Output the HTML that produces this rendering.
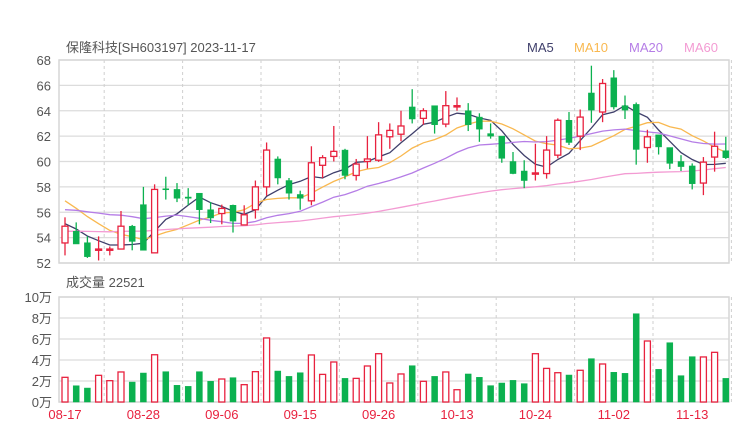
<!DOCTYPE html>
<html><head><meta charset="utf-8"><style>
body{margin:0;background:#fff;width:740px;height:440px;overflow:hidden;font-family:"Liberation Sans","Noto Sans CJK SC",sans-serif;}
svg text{font-family:"Liberation Sans","Noto Sans CJK SC",sans-serif;}
</style></head><body>
<svg id="chart" width="740" height="440" xmlns="http://www.w3.org/2000/svg">
<text x="66" y="52" font-size="13" fill="#555">保隆科技[SH603197] 2023-11-17</text>
<text x="527" y="52" font-size="13" fill="#3f3f6b">MA5</text>
<text x="574" y="52" font-size="13" fill="#f9b84f">MA10</text>
<text x="629" y="52" font-size="13" fill="#b57de6">MA20</text>
<text x="684" y="52" font-size="13" fill="#f39bd3">MA60</text>
<text x="66" y="287" font-size="13" fill="#555">成交量 22521</text>
<g id="main"></g>
</svg>
<script>
const dates=["08-17","08-28","09-06","09-15","09-26","10-13","10-24","11-02","11-13"];
const priceTicks=[68,66,64,62,60,58,56,54,52];
const volTicks=[10,8,6,4,2,0];
const opens=[53.58,54.5,53.6,53.0,53.0,53.1,54.9,56.6,52.8,57.85,57.8,57.2,57.5,56.2,55.9,56.55,55.0,56.2,58.0,60.2,58.5,57.4,56.9,59.7,60.4,60.9,58.9,60.0,60.1,61.95,62.15,64.3,63.4,64.4,62.95,64.3,64.0,63.5,62.2,62.0,60.0,59.25,59.0,59.05,60.5,63.25,62.0,65.4,63.9,66.6,64.4,64.5,61.1,62.1,61.1,60.0,59.65,58.3,60.35,60.85];
const closes=[54.9,53.5,52.5,53.1,53.1,54.9,53.7,53.0,57.8,57.8,57.1,57.1,56.2,55.55,56.3,55.3,55.8,58.0,60.9,58.7,57.5,57.1,59.9,60.3,60.8,58.9,59.8,60.2,62.1,62.45,62.8,63.35,64.0,62.9,64.4,64.4,62.9,62.55,62.0,60.25,59.05,58.5,59.1,60.9,63.25,61.5,63.5,64.05,66.15,64.3,64.05,60.95,61.95,61.15,59.85,59.6,58.25,59.95,61.2,60.3];
const highs=[55.6,55.2,54.1,54.1,53.3,56.1,55.0,58.0,58.2,58.8,58.3,57.9,57.5,56.8,56.6,56.6,56.55,58.5,61.5,60.4,58.7,57.7,61.2,60.5,62.8,61.0,60.2,62.0,63.1,63.0,64.0,65.7,64.2,64.4,65.55,65.05,64.6,63.8,63.0,62.0,60.75,60.1,61.4,62.0,63.4,63.9,64.1,67.55,66.5,67.2,65.2,64.65,62.5,62.1,61.1,60.5,59.85,60.35,62.35,61.95];
const lows=[52.6,53.5,52.4,52.2,52.6,53.1,53.0,53.0,52.8,57.0,56.8,56.55,55.05,55.15,55.05,54.4,55.0,55.5,57.3,58.2,57.0,56.2,56.55,58.7,60.0,58.6,58.5,59.45,59.97,61.0,61.6,63.0,62.9,62.2,62.7,64.0,62.4,61.55,61.8,59.9,59.0,57.9,58.5,58.65,60.25,61.3,60.9,63.05,63.1,64.1,63.35,59.75,59.9,60.55,59.4,59.25,57.8,57.35,59.2,60.2];
const volumes=[2.35,1.55,1.33,2.54,2.03,2.86,1.9,2.76,4.5,2.89,1.59,1.49,2.89,1.97,2.19,2.32,1.65,2.89,6.1,2.95,2.44,2.79,4.48,2.63,3.81,2.25,2.25,3.43,4.6,1.81,2.67,3.46,1.97,2.44,2.86,1.17,2.67,2.35,1.56,1.81,2.06,1.75,4.6,3.2,2.79,2.57,3.02,4.13,3.62,2.83,2.73,8.41,5.81,3.11,5.65,2.51,4.32,4.29,4.73,2.25];
const priorCloses=[53,53.5,54,53.8,53.2,52.8,53,53.5,54,54.2,54,53.6,53.2,53,53.4,53.8,54.2,54.5,54.2,53.8,53.5,53.2,53.4,53.8,54,54.3,54,53.6,53.2,53,53.2,53.5,53.8,54,54.2,53.9,53.6,53.4,53.6,53.9,54.5,54.8,55.2,55.5,55.8,56.0,56.2,56.0,55.5,55.5,59.4,59.0,58.7,58.4,58.0,55.6,55.3,54.9,54.8];
const maPeriods=[5,10,20,60];
const maColors=["#3f3f6b","#f9b84f","#b57de6","#f39bd3"];

const NS="http://www.w3.org/2000/svg";
const g=document.getElementById('main');
const L=59,R=729,PT=60,PB=263,VT=297,VB=402;
const step=11.2,x0=65;
const xs=i=>x0+i*step;
const yP=v=>PT+(68-v)*(PB-PT)/16;
const yV=v=>VB-v*(VB-VT)/10;
function mk(tag,attrs,parent){const e=document.createElementNS(NS,tag);for(const k in attrs)e.setAttribute(k,attrs[k]);(parent||g).appendChild(e);return e;}

// grids
priceTicks.forEach(t=>{
  const ln=mk('line',{x1:L,x2:R,y1:yP(t),y2:yP(t),stroke:'#dcdcdc','stroke-width':1.2});
  
  
  const tx=mk('text',{x:51,y:yP(t)+5,'font-size':13,fill:'#555','text-anchor':'end'});
  tx.textContent=t;
  
  
});
volTicks.forEach(t=>{
  const ln=mk('line',{x1:L,x2:R,y1:yV(t),y2:yV(t),stroke:'#dcdcdc','stroke-width':1.2});
  
  
  const tx=mk('text',{x:52,y:yV(t)+5,'font-size':13,fill:'#555','text-anchor':'end'});
  tx.textContent=t+'万';
  
  
});
dates.forEach((d,k)=>{
  const xv=xs(k*7+3.5);
  [[PT,PB],[VT,VB]].forEach(r=>{
    const ln=mk('line',{x1:xv,x2:xv,y1:r[0],y2:r[1],stroke:'#cfcfcf','stroke-dasharray':'3,3'});
    
    
  });
  const tx=mk('text',{x:xs(k*7),y:419,'font-size':13,fill:'#e8223f','text-anchor':'middle'});
  tx.textContent=d;
  
  
});
const b1=mk('rect',{x:L,y:PT,width:R-L,height:PB-PT,fill:'none',stroke:'#d6d6d6','stroke-width':1.5});


const b2=mk('rect',{x:L,y:VT,width:R-L,height:VB-VT,fill:'none',stroke:'#d6d6d6','stroke-width':1.5});



// MA lines
const all=priorCloses.concat(closes);
const off=priorCloses.length;
maPeriods.forEach((p,j)=>{
  const pts=[];
  closes.forEach((c,i)=>{
    const idx=off+i;let s=0;
    for(let k=idx-p+1;k<=idx;k++)s+=all[k];
    pts.push(xs(i).toFixed(1)+','+yP(s/p).toFixed(1));
  });
  const pl=mk('polyline',{points:pts.join(' '),fill:'none',stroke:maColors[j],'stroke-width':1.3});
  
  
});

// candles & volume
closes.forEach((c,i)=>{
  const o=opens[i],up=c>=o,col=up?'#e8223f':'#0bb14f';
  const x=xs(i);
  const cg=mk('g',{});
  
  
  const top=Math.min(yP(o),yP(c)),bot=Math.max(yP(o),yP(c));
  mk('line',{x1:x,x2:x,y1:yP(highs[i]),y2:top,stroke:col,'stroke-width':1.3},cg);
  mk('line',{x1:x,x2:x,y1:bot,y2:yP(lows[i]),stroke:col,'stroke-width':1.3},cg);
  mk('rect',{x:x-3,y:top,width:6,height:Math.max(bot-top,1),fill:up?'#fff':col,stroke:col,'stroke-width':up?1.3:0.5},cg);
  const vb=mk('rect',{x:x-3,y:yV(volumes[i]),width:6,height:yV(0)-yV(volumes[i]),fill:up?'#fff':col,stroke:col,'stroke-width':up?1.3:0.5});
  
  
});
</script>
</body></html>
